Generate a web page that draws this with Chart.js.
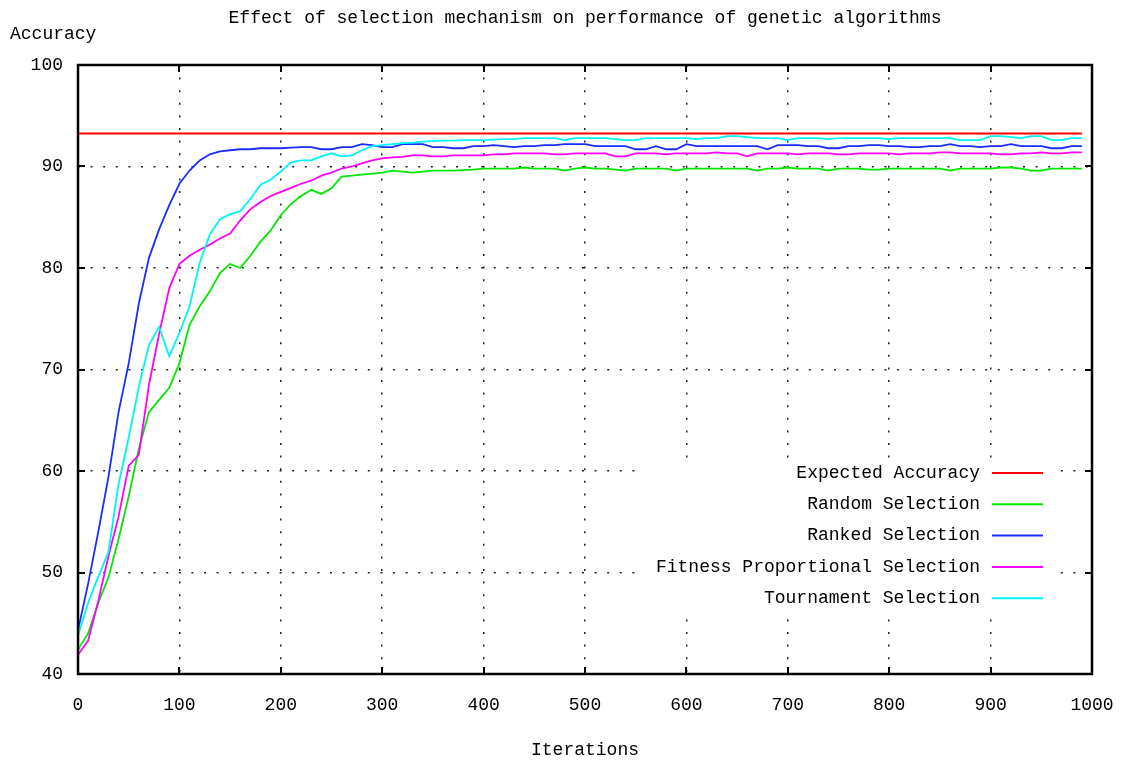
<!DOCTYPE html>
<html>
<head>
<meta charset="utf-8">
<title>Effect of selection mechanism on performance of genetic algorithms</title>
<script src="https://cdn.jsdelivr.net/npm/chart.js@4/dist/chart.umd.min.js"></script>
<style>
  html, body { margin: 0; padding: 0; background: #fff; }
  #chart { display: block; }
</style>
</head>
<body>
<canvas id="chart" width="1128" height="761"></canvas>
<script>
// ======= Data =======
const chartTitle = "Effect of selection mechanism on performance of genetic algorithms";
const yTitle = "Accuracy";
const xTitle = "Iterations";

const seriesNames = [
  "Expected Accuracy",
  "Random Selection",
  "Ranked Selection",
  "Fitness Proportional Selection",
  "Tournament Selection"
];
const seriesColors = ["#ff0000", "#00e800", "#1a2cff", "#ff00ff", "#00f4f4"];

const iterations = [
  0, 10, 20, 30, 40, 50, 60, 70, 80, 90,
  100, 110, 120, 130, 140, 150, 160, 170, 180, 190,
  200, 210, 220, 230, 240, 250, 260, 270, 280, 290,
  300, 310, 320, 330, 340, 350, 360, 370, 380, 390,
  400, 410, 420, 430, 440, 450, 460, 470, 480, 490,
  500, 510, 520, 530, 540, 550, 560, 570, 580, 590,
  600, 610, 620, 630, 640, 650, 660, 670, 680, 690,
  700, 710, 720, 730, 740, 750, 760, 770, 780, 790,
  800, 810, 820, 830, 840, 850, 860, 870, 880, 890,
  900, 910, 920, 930, 940, 950, 960, 970, 980, 990
];

const expectedIters = [0, 990];
const expectedAccuracy = [93.25, 93.25];

const randomSel = [
  42.4, 44.0, 47.0, 49.5, 53.3, 57.5, 62.2, 65.8, 67.0, 68.2,
  70.6, 74.4, 76.2, 77.7, 79.5, 80.4, 80.0, 81.2, 82.6, 83.7,
  85.2, 86.3, 87.1, 87.7, 87.3, 87.85, 89.0, 89.1, 89.2, 89.3,
  89.4, 89.6, 89.5, 89.4, 89.5, 89.6, 89.6, 89.6, 89.65, 89.7,
  89.8, 89.8, 89.8, 89.8, 89.9, 89.8, 89.8, 89.8, 89.6, 89.8,
  89.9, 89.8, 89.8, 89.7, 89.6, 89.8, 89.8, 89.8, 89.8, 89.6,
  89.8, 89.8, 89.8, 89.8, 89.8, 89.8, 89.8, 89.6, 89.8, 89.8,
  89.9, 89.8, 89.8, 89.8, 89.6, 89.8, 89.8, 89.8, 89.7, 89.7,
  89.8, 89.8, 89.8, 89.8, 89.8, 89.8, 89.6, 89.8, 89.8, 89.8,
  89.8, 89.9, 89.9, 89.8, 89.6, 89.6, 89.8, 89.8, 89.8, 89.8
];

const rankedSel = [
  44.3, 48.9, 54.0, 59.4, 65.8, 70.6, 76.5, 81.0, 83.8, 86.2,
  88.3, 89.6, 90.6, 91.2, 91.5, 91.6, 91.7, 91.7, 91.8, 91.8,
  91.8, 91.85, 91.9, 91.9, 91.7, 91.7, 91.9, 91.9, 92.2, 92.1,
  91.9, 91.9, 92.2, 92.2, 92.2, 91.9, 91.9, 91.8, 91.8, 92.0,
  92.0, 92.1, 92.0, 91.9, 92.0, 92.0, 92.1, 92.1, 92.2, 92.2,
  92.2, 92.0, 92.0, 92.0, 92.0, 91.7, 91.7, 92.0, 91.7, 91.7,
  92.2, 92.0, 92.0, 92.0, 92.0, 92.0, 92.0, 92.0, 91.7, 92.1,
  92.1, 92.1, 92.0, 92.0, 91.8, 91.8, 92.0, 92.0, 92.1, 92.1,
  92.0, 92.0, 91.9, 91.9, 92.0, 92.0, 92.2, 92.0, 92.0, 91.9,
  92.0, 92.0, 92.2, 92.0, 92.0, 92.0, 91.8, 91.8, 92.0, 92.0
];

const fitnessSel = [
  41.9, 43.3, 47.2, 51.6, 55.5, 60.5, 61.6, 68.5, 73.5, 78.0,
  80.4, 81.2, 81.8, 82.3, 82.9, 83.4, 84.7, 85.8, 86.5, 87.1,
  87.5, 87.9, 88.3, 88.6, 89.1, 89.4, 89.8, 90.0, 90.3, 90.6,
  90.8, 90.9, 90.95, 91.1, 91.1, 91.0, 91.0, 91.1, 91.1, 91.1,
  91.1, 91.2, 91.2, 91.3, 91.3, 91.3, 91.3, 91.2, 91.2, 91.3,
  91.3, 91.3, 91.3, 91.0, 91.0, 91.3, 91.3, 91.3, 91.2, 91.3,
  91.3, 91.3, 91.3, 91.4, 91.3, 91.3, 91.0, 91.3, 91.3, 91.3,
  91.3, 91.2, 91.3, 91.3, 91.3, 91.2, 91.2, 91.3, 91.3, 91.3,
  91.3, 91.2, 91.3, 91.3, 91.3, 91.4, 91.4, 91.3, 91.3, 91.3,
  91.3, 91.2, 91.2, 91.3, 91.3, 91.4, 91.3, 91.3, 91.4, 91.4
];

const tournamentSel = [
  43.8, 47.0, 49.6, 52.0, 58.7, 63.3, 68.3, 72.4, 74.2, 71.3,
  73.6, 76.2, 80.5, 83.3, 84.8, 85.3, 85.6, 86.8, 88.2, 88.7,
  89.5, 90.4, 90.6, 90.6, 91.0, 91.3, 91.0, 91.1, 91.6, 92.0,
  92.1, 92.2, 92.3, 92.35, 92.45, 92.5, 92.55, 92.55, 92.6, 92.6,
  92.6, 92.65, 92.7, 92.7, 92.8, 92.8, 92.8, 92.8, 92.6, 92.8,
  92.8, 92.8, 92.8, 92.7, 92.6, 92.6, 92.8, 92.8, 92.8, 92.8,
  92.8, 92.7, 92.8, 92.8, 93.0, 93.0, 92.9, 92.8, 92.8, 92.8,
  92.6, 92.8, 92.8, 92.8, 92.7, 92.8, 92.8, 92.8, 92.8, 92.8,
  92.7, 92.8, 92.8, 92.8, 92.8, 92.8, 92.8, 92.6, 92.6, 92.6,
  93.0, 93.0, 92.9, 92.8, 93.0, 93.0, 92.6, 92.6, 92.8, 92.8
];

const xTicks = [0, 100, 200, 300, 400, 500, 600, 700, 800, 900, 1000];
const yTicks = [40, 50, 60, 70, 80, 90, 100];

// ======= Helpers =======
const FONT = "'Liberation Mono', 'DejaVu Sans Mono', monospace";
const toPoints = (xs, ys) => xs.map((x, i) => ({x: x, y: ys[i]}));

const allSeries = [
  toPoints(expectedIters, expectedAccuracy),
  toPoints(iterations, randomSel),
  toPoints(iterations, rankedSel),
  toPoints(iterations, fitnessSel),
  toPoints(iterations, tournamentSel)
];

// gnuplot-ish key: opaque box, text right aligned, line sample after it
const keyRows = {textRight: 980, lineFrom: 992, lineTo: 1043, firstY: 473, step: 31.3};

// ======= Plugin: frame, inward ticks, titles, key =======
const gnuplotLook = {
  id: "gnuplotLook",
  beforeDatasetsDraw(chart) {
    const ctx = chart.ctx;
    ctx.save();
    ctx.font = "18px " + FONT;
    let maxW = 0;
    seriesNames.forEach(n => { maxW = Math.max(maxW, ctx.measureText(n).width); });
    const last = keyRows.firstY + keyRows.step * (seriesNames.length - 1);
    const left = keyRows.textRight - maxW - 19;
    ctx.fillStyle = "#fff";
    ctx.fillRect(left, keyRows.firstY - 15, keyRows.lineTo + 9 - left, last + 31 - keyRows.firstY);
    ctx.restore();
  },
  afterDatasetsDraw(chart) {
    const ctx = chart.ctx;
    const a = chart.chartArea;
    const xs = chart.scales.x, ys = chart.scales.y;
    ctx.save();

    // inward tick marks on all four sides
    ctx.strokeStyle = "#000";
    ctx.lineWidth = 2;
    ctx.beginPath();
    xTicks.forEach(v => {
      const px = Math.round(xs.getPixelForValue(v));
      ctx.moveTo(px, a.bottom); ctx.lineTo(px, a.bottom - 7);
      ctx.moveTo(px, a.top); ctx.lineTo(px, a.top + 7);
    });
    yTicks.forEach(v => {
      const py = Math.round(ys.getPixelForValue(v));
      ctx.moveTo(a.left, py); ctx.lineTo(a.left + 7, py);
      ctx.moveTo(a.right, py); ctx.lineTo(a.right - 7, py);
    });
    ctx.stroke();

    // frame
    ctx.lineWidth = 2.5;
    ctx.strokeRect(a.left, a.top, a.right - a.left, a.bottom - a.top);

    // key
    ctx.font = "18px " + FONT;
    ctx.textAlign = "right";
    ctx.textBaseline = "middle";
    chart.data.datasets.forEach((ds, i) => {
      const y = keyRows.firstY + keyRows.step * i;
      ctx.fillStyle = "#000";
      ctx.fillText(ds.label, keyRows.textRight, y);
      ctx.strokeStyle = ds.borderColor;
      ctx.lineWidth = 2;
      ctx.beginPath();
      ctx.moveTo(keyRows.lineFrom, y);
      ctx.lineTo(keyRows.lineTo, y);
      ctx.stroke();
    });

    // titles
    ctx.fillStyle = "#000";
    ctx.textAlign = "center";
    ctx.fillText(chartTitle, 585, 18);
    ctx.fillText(xTitle, 585, 750);
    ctx.textAlign = "left";
    ctx.fillText(yTitle, 10, 34);
    ctx.restore();
  }
};

// ======= Chart =======
Chart.defaults.font.family = FONT;
Chart.defaults.font.size = 18;
Chart.defaults.color = "#000";

const ctx = document.getElementById("chart").getContext("2d");
new Chart(ctx, {
  type: "line",
  data: {
    datasets: seriesNames.map((name, i) => ({
      label: name,
      data: allSeries[i],
      borderColor: seriesColors[i],
      backgroundColor: seriesColors[i],
      borderWidth: 1.8,
      pointRadius: 0,
      tension: 0,
      fill: false,
      order: seriesNames.length - i
    }))
  },
  options: {
    responsive: false,
    animation: false,
    events: [],
    layout: { padding: { top: 65, right: 36, left: 0, bottom: 0 } },
    plugins: {
      legend: { display: false },
      title: { display: false },
      tooltip: { enabled: false }
    },
    scales: {
      x: {
        type: "linear",
        min: 0,
        max: 1000,
        afterFit: s => { s.height = 87; s.paddingLeft = 0; s.paddingRight = 0; },
        afterBuildTicks: s => { s.ticks = xTicks.map(v => ({value: v})); },
        ticks: { padding: 20, maxRotation: 0, autoSkip: false, callback: v => String(v) },
        grid: { color: "#222", lineWidth: 1.5, drawTicks: false },
        border: { display: false, dash: [2, 10.6] }
      },
      y: {
        type: "linear",
        min: 40,
        max: 100,
        afterFit: s => { s.width = 78; s.paddingTop = 0; s.paddingBottom = 0; },
        afterBuildTicks: s => { s.ticks = yTicks.map(v => ({value: v})); },
        ticks: { padding: 15, autoSkip: false, callback: v => String(v) },
        grid: { color: "#222", lineWidth: 1.5, drawTicks: false },
        border: { display: false, dash: [2, 10.6] }
      }
    }
  },
  plugins: [gnuplotLook]
});
</script>
</body>
</html>
